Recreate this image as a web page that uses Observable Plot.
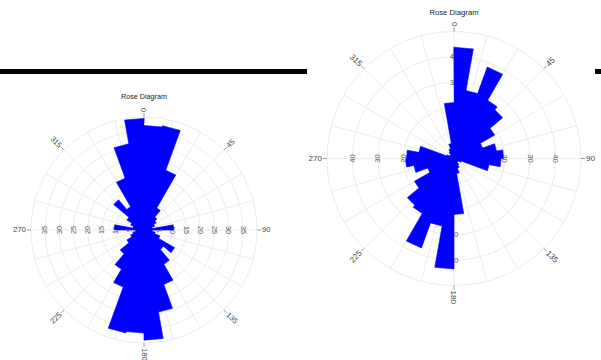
<!DOCTYPE html>
<html><head><meta charset="utf-8">
<script src="https://cdn.jsdelivr.net/npm/d3@7"></script>
<script src="https://cdn.jsdelivr.net/npm/@observablehq/plot@0.6"></script>
<style>
body{margin:0;background:#fff;width:601px;height:360px;overflow:hidden;position:relative;font-family:"Liberation Sans",Arial,sans-serif}
#rule{position:absolute;left:0;top:69px;width:601px;height:4.5px;background:#000}
#left{position:absolute;left:0;top:75px}
#right{position:absolute;left:307px;top:0}
svg{display:block}
</style></head><body>
<div id="rule"></div><div id="left"></div><div id="right"></div>
<script>
// bin start angles (degrees clockwise from north), 10° bins
const binStarts = [0,10,20,30,40,50,60,70,80,90,100,110,120,130,140,150,160,170,180,190,200,210,220,230,240,250,260,270,280,290,300,310,320,330,340,350];
const binWidth = 10;
// left rose: bar lengths per bin
const leftValues = [37,37.5,22.5,9,6,5,4,3,10.5,3,4,6,12.5,9,14,20.5,29.5,39,36.5,37,21.5,16,11,7,5,4,3,10.5,4,5,7,14,9.5,19.5,31,39.5];
// right rose: bar lengths per bin
const rightValues = [43.8,27.2,38.3,26.5,25,18.5,12,17,19.5,18.5,14,3,2,2,3,4,6,22,43.5,27,37.5,25,24,18,11,16,19,18.7,14,3,2,2,3,4,6,22];
const leftRings = [5,10,15,20,25,30,35,40];
const leftTickLabels = [5,10,15,20,25,30,35];
const rightRings = [10,20,30,40,50];
const rightTickLabels = [10,20,30,40];
const angleLabels = [0,45,90,135,180,225,270,315];
const spokeAngles = [0,15,30,45,60,75,90,105,120,135,150,165,180,195,210,225,240,255,270,285,300,315,330,345];
const axisAngles = [0,90,180,270];
const titleText = "Rose Diagram";

function rose({values, rings, tickValues, maxR, Rpx, cx, cy, width, height, fontSize, titleGap}) {
  const k = Rpx / maxR;
  const rad = a => a * Math.PI / 180;
  const px = (a, r) => r * Math.sin(rad(a));
  const py = (a, r) => r * Math.cos(rad(a));
  const grid = "#ececec";
  const pts = binStarts.flatMap((a, i) => [{a, r: values[i]}, {a: a + binWidth, r: values[i]}]);
  const radial = axisAngles.flatMap(ax => tickValues.map(v => ({ax, v})));
  const rot = {0: 0, 90: 90, 180: 0, 270: -90};
  const angInfo = angleLabels.map(a => {
    let t = a - 90, anchor = "start";
    if (t > 90) { t -= 180; anchor = "end"; }
    return {a, t, anchor};
  });
  const labR = maxR + 5 / k;
  const tickR = maxR + 4 / k;
  return Plot.plot({
    width, height, margin: 0,
    style: {background: "white", fontFamily: "'Liberation Sans', Arial, sans-serif", overflow: "visible"},
    x: {domain: [-maxR, maxR], range: [cx - Rpx, cx + Rpx], axis: null},
    y: {domain: [-maxR, maxR], range: [cy + Rpx, cy - Rpx], axis: null},
    r: {type: "linear", domain: [0, maxR], range: [0, Rpx]},
    marks: [
      Plot.dot(rings, {x: 0, y: 0, r: d => d, fill: "none", stroke: grid, strokeWidth: 1}),
      Plot.link(spokeAngles, {x1: 0, y1: 0, x2: a => px(a, maxR), y2: a => py(a, maxR), stroke: grid, strokeWidth: 1}),
      Plot.link(angleLabels, {x1: a => px(a, maxR), y1: a => py(a, maxR), x2: a => px(a, tickR), y2: a => py(a, tickR), stroke: "#999", strokeWidth: 1}),
      Plot.text(radial, {x: d => px(d.ax, d.v), y: d => py(d.ax, d.v), text: d => String(d.v), rotate: d => rot[d.ax], fontSize, fill: "#555"}),
      Plot.line(pts, {x: d => px(d.a, d.r), y: d => py(d.a, d.r), curve: "linear-closed", fill: "#0000ff", stroke: "#0000ff", strokeWidth: 0.6}),
      ...["start", "end"].map(anchor => Plot.text(angInfo.filter(d => d.anchor === anchor), {
        x: d => px(d.a, labR), y: d => py(d.a, labR), text: d => String(d.a), rotate: d => d.t,
        textAnchor: anchor, fontSize: fontSize + 0.4, fill: "#444"})),
      Plot.text([titleText], {x: 0, y: titleGap / k, text: d => d, fontSize, fill: "#222"})
    ]
  });
}

document.getElementById("left").append(rose({
  values: leftValues, rings: leftRings, tickValues: leftTickLabels,
  maxR: 40, Rpx: 113, cx: 143.5, cy: 154.5, width: 305, height: 285, fontSize: 7.2, titleGap: 133.5
}));
document.getElementById("right").append(rose({
  values: rightValues, rings: rightRings, tickValues: rightTickLabels,
  maxR: 50, Rpx: 127, cx: 146.5, cy: 158, width: 288, height: 305, fontSize: 7.7, titleGap: 146.3
}));
</script>
</body></html>
